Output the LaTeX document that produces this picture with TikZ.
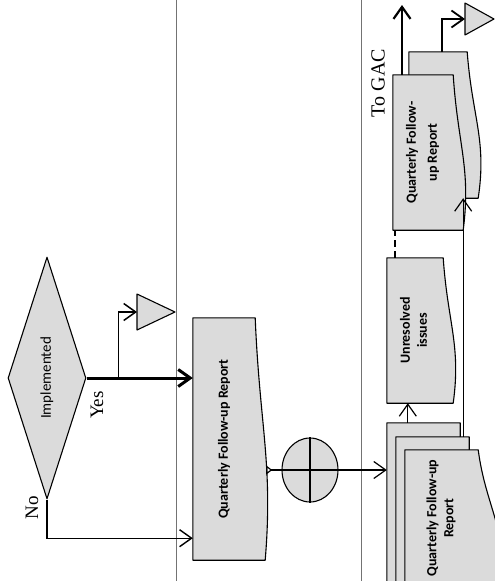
\documentclass[tikz,border=0pt]{standalone}
\usepackage{fontspec}
\setmainfont{Liberation Serif}
\newfontfamily\carlito{Carlito}
\usepackage{graphicx}
\usetikzlibrary{arrows.meta,positioning,calc,shapes.geometric,backgrounds}
\definecolor{docgray}{gray}{0.86}
\definecolor{lanegray}{gray}{0.45}

\begin{document}
\begin{tikzpicture}[x=1pt, y=-1pt, >={Straight Barb[length=12pt,width=17pt]},
    every node/.style={inner sep=0pt},
    doc/.style={font=\carlito\bfseries\fontsize{14}{17}\selectfont, align=center},
    docline/.style={draw=black, fill=docgray, line width=1.1pt, line join=round},
    flow/.style={line width=1.2pt, ->},
    lane/.style={lanegray, line width=0.6pt},
    word/.style={font=\fontsize{19}{19}\selectfont, rotate=90}]
    \useasboundingbox (0,0) rectangle (495,581);
    % lanes
    \draw[lane] (176,0) -- (176,581);
    \draw[lane] (361,0) -- (361,581);

    % decision and first report
    \node[diamond, aspect=0.3, minimum width=78pt, minimum height=242pt, docline,
      font=\carlito\fontsize{15}{15}\selectfont] (dec) at (47,378) {\rotatebox{90}{Implemented}};
    \node[doc, minimum width=62pt, minimum height=242pt] (qbox) at (224,439)
      {\rotatebox{90}{Quarterly Follow-up Report}};
    \node[ellipse, docline, minimum width=56pt, minimum height=64pt] (gw) at (310,470) {};
    \draw[line width=1.1pt] (gw.north) -- (gw.south) (gw.west) -- (gw.east);

    % right lane documents
    \node[doc, minimum width=73pt, minimum height=257pt] (s1) at (423.5,551.5) {};
    \node[doc, minimum width=73pt, minimum height=253pt] (s2) at (432.5,563.5) {};
    \node[doc, minimum width=73pt, minimum height=136pt] (s3) at (441.5,518)
      {\rotatebox{90}{\begin{tabular}{@{}c@{}}Quarterly Follow-up\\Report\end{tabular}}};
    \node[doc, minimum width=56pt, minimum height=145pt] (unres) at (415,330.5)
      {\rotatebox{90}{\begin{tabular}{@{}c@{}}Unresolved\\issues\end{tabular}}};
    \node[doc, minimum width=58pt, minimum height=146pt] (qr2) at (438,125) {};
    \node[doc, minimum width=60pt, minimum height=155pt] (qr1) at (423,152.5)
      {\rotatebox{90}{\begin{tabular}{@{}c@{}}Quarterly Follow-\\[4pt]up Report\end{tabular}}};

    % document outlines with the wavy edge
    \begin{scope}[on background layer]
      \foreach \n/\bw in {qbox/10, unres/10, s1/0, s2/0, s3/18, qr2/11, qr1/10}
        \draw[docline] (\n.north east) -- (\n.north west) -- (\n.south west)
          -- ($(\n.south east)+(\bw,0)$)
          .. controls ($(\n.north east)!0.6!(\n.south east)+(1.8*\bw,0)$)
          and ($(\n.north east)!0.45!(\n.south east)+(0.45*\bw,0)$) .. (\n.north east) -- cycle;
    \end{scope}

    % decision branches
    \draw[line width=3pt, ->] (dec.east) -- (dec.east -| qbox.west);
    \coordinate (t1) at (137,312);
    \draw[line width=1.5pt, ->] ($(dec.east)+(32,0)$) |- (t1);
    \draw[docline] (t1) -- ++(0,-18) -- ++(38,18) -- ++(-38,18) -- cycle;
    \draw[line width=1.4pt, ->] (dec.south) |- ($(qbox.south west)+(0,-22)$);
    \node[word] (yes) at (97,405) {Yes};
    \node[word] (no) at (32,508) {No};

    % flow to the right lane
    \draw[line width=1.2pt, {Triangle[open,reversed,length=6pt,width=9pt]}-]
      ($(qbox.east |- gw.west)+(11,0)$) -- (gw.west);
    \draw[flow] (gw.east) -- (gw.east -| s1.west);
    \draw[flow] ($(s1.north west)+(21,0)$) -- ($(unres.south west)+(21,0)$);
    \coordinate (dash) at ($(unres.north west)+(8,0)$);
    \draw[line width=2pt, dash pattern=on 7pt off 4pt] (dash) -- (dash |- qr1.south);
    \coordinate (up) at ($(s2.north east)+(-6,0)$);
    \draw[flow] (up) -- (up |- qr2.south);

    % outputs
    \coordinate (gac) at (402,5);
    \draw[line width=2.2pt, ->] (gac |- qr1.north) -- (gac);
    \node[word, font=\fontsize{20}{20}\selectfont] (gaclbl) at (378,83) {To GAC};
    \coordinate (t2) at (465,19);
    \draw[line width=1.8pt, ->] ($(qr2.north)+(4,0)$) |- (t2);
    \draw[docline] (t2) -- ++(0,-16) -- ++(29,16) -- ++(-29,16) -- cycle;
\end{tikzpicture}
\end{document}
